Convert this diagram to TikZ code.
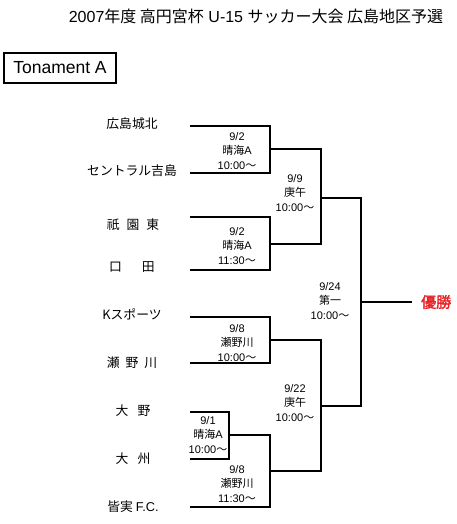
\documentclass[tikz,border=0pt]{standalone}
\usepackage{fontspec}
\setmainfont{Liberation Sans}
\newfontfamily\jp{Noto Sans CJK JP}
\newfontfamily\jpb[FakeBold=2]{Noto Sans CJK JP}
\definecolor{winred}{RGB}{232,32,36}
\begin{document}
\begin{tikzpicture}[x=1pt,y=-1pt,
  team/.style={font=\jp\fontsize{12.8}{14}\selectfont, inner sep=0pt},
  game/.style={align=center, font=\fontsize{11}{14.3}\selectfont, inner sep=0pt},
  br/.style={line width=1.6pt}]
\useasboundingbox (0,0) rectangle (456,524);
% title
\node[font=\fontsize{16}{18}\selectfont, inner sep=0pt] (title) at (256,16)
  {2007{\jp 年度 高円宮杯} U-15 {\jp サッカー大会 広島地区予選}};
\node[draw, line width=1.1pt, minimum width=112pt, minimum height=30pt, inner sep=0pt,
  font=\fontsize{17.5}{20}\selectfont] (tab) at (60,68) {Tonament A};
% teams
\node[team] (t1) at (132,124) {広島城北};
\node[team] (t2) at (132,171) {セントラル吉島};
\node[team] (t3) at (133,225) {祇\hspace{7pt}園\hspace{7pt}東};
\node[team] (t4) at (132,267) {口\hspace{20pt}田};
\node[team] (t5) at (132,314) {K{\jp スポーツ}};
\node[team] (t6) at (132,363) {瀬\hspace{6pt}野\hspace{6pt}川};
\node[team] (t7) at (133,411) {大\hspace{9pt}野};
\node[team] (t8) at (133,459) {大\hspace{9pt}州};
\node[team] (t9) at (133,507) {皆実 {\fontspec{Liberation Sans}F.C.}};
% bracket coordinates
\coordinate (a1) at (190,126);
\coordinate (a2) at (190,173);
\coordinate (a3) at (190,217);
\coordinate (a4) at (190,270);
\coordinate (a5) at (190,317);
\coordinate (a6) at (190,363);
\coordinate (a7) at (190,412);
\coordinate (a8) at (190,459);
\coordinate (a9) at (190,507);
\coordinate (m1) at (270,149);
\coordinate (m2) at (270,244);
\coordinate (m3) at (321,198);
\coordinate (m4) at (270,340);
\coordinate (m5) at (229,435);
\coordinate (m7) at (270,471);
\coordinate (m6) at (321,406);
\coordinate (fc) at (361,302);
\coordinate (we) at (412,302);
% bracket lines
\draw[br] (a1) -| (m1) |- (a2);
\draw[br] (a3) -| (m2) |- (a4);
\draw[br] (m1) -| (m3) |- (m2);
\draw[br] (a5) -| (m4) |- (a6);
\draw[br] (a7) -| (m5) |- (a8);
\draw[br] (m5) -| (m7) |- (a9);
\draw[br] (m4) -| (m6) |- (m7);
\draw[br] (m3) -| (fc) |- (m6);
\draw[br] (fc) -- (we);
% winner
\node[font=\jpb\fontsize{15}{17}\selectfont, text=winred, inner sep=0pt, anchor=west] (win) at (421,302) {優勝};
% game labels
\node[game] (g1) at (237,151) {9/2\\{\jp 晴海}A\\10:00{\jp 〜}};
\node[game] (g2) at (237,246) {9/2\\{\jp 晴海}A\\11:30{\jp 〜}};
\node[game] (g3) at (295,193) {9/9\\{\jp 庚午}\\10:00{\jp 〜}};
\node[game] (gf) at (330,301) {9/24\\{\jp 第一}\\10:00{\jp 〜}};
\node[game] (g4) at (237,343) {9/8\\{\jp 瀬野川}\\10:00{\jp 〜}};
\node[game] (g5) at (208,435) {9/1\\{\jp 晴海}A\\10:00{\jp 〜}};
\node[game] (g6) at (295,403) {9/22\\{\jp 庚午}\\10:00{\jp 〜}};
\node[game] (g7) at (237,484) {9/8\\{\jp 瀬野川}\\11:30{\jp 〜}};
\end{tikzpicture}
\end{document}
